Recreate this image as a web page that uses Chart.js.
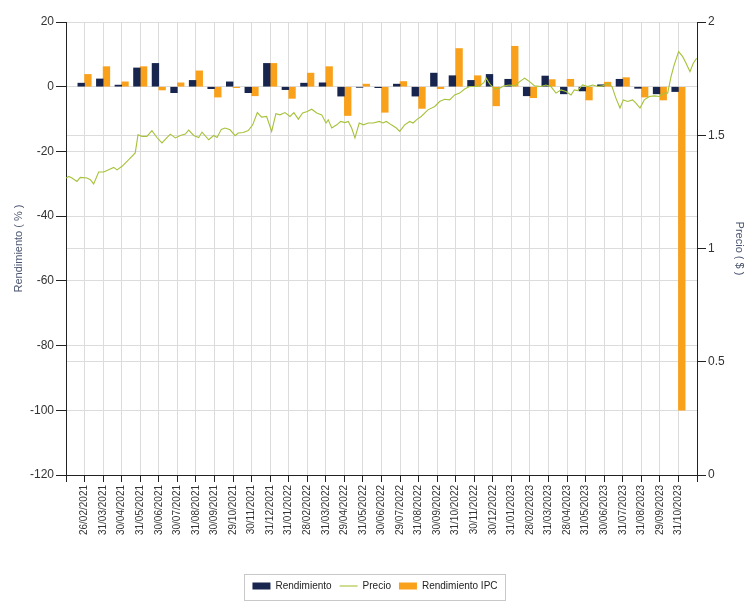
<!DOCTYPE html>
<html>
<head>
<meta charset="utf-8">
<script src="https://cdn.jsdelivr.net/npm/chart.js@4"></script>
<style>
html, body { margin: 0; padding: 0; background: #fff; }
</style>
</head>
<body>
<canvas id="chart" width="746" height="601"></canvas>
<script>
// fechas de cierre mensual
var fechas = ["26/02/2021", "31/03/2021", "30/04/2021", "31/05/2021", "30/06/2021", "30/07/2021",
    "31/08/2021", "30/09/2021", "29/10/2021", "30/11/2021", "31/12/2021", "31/01/2022",
    "28/02/2022", "31/03/2022", "29/04/2022", "31/05/2022", "30/06/2022", "29/07/2022",
    "31/08/2022", "30/09/2022", "31/10/2022", "30/11/2022", "30/12/2022", "31/01/2023",
    "28/02/2023", "31/03/2023", "28/04/2023", "31/05/2023", "30/06/2023", "31/07/2023",
    "31/08/2023", "29/09/2023", "31/10/2023"];

// rendimiento mensual (%)
var rendimiento = [1.1, 2.4, 0.5, 5.8, 7.2, -1.85, 1.95, -0.6, 1.5, -1.85, 7.2, -0.9,
    1.1, 1.2, -2.9, -0.2, -0.3, 0.8, -2.9, 4.2, 3.4, 1.95, 3.8, 2.3,
    -2.8, 3.3, -2.2, -1.3, 0.6, 2.3, -0.5, -2.2, -1.5];

var rendimientoIPC = [3.8, 6.2, 1.5, 6.2, -1.0, 1.2, 4.9, -3.2, -0.3, -2.8, 7.2, -3.6,
    4.2, 6.2, -8.9, 0.8, -7.9, 1.6, -6.7, -0.6, 11.8, 3.4, -5.9, 12.5,
    -3.4, 2.2, 2.3, -4.1, 1.4, 2.8, -3.2, -4.1, -100];

// precio: posicion en meses (1 = 26/02/2021) y valor en $
var precioPos = [0, 0.15, 0.32, 0.59, 0.77, 1.13, 1.31, 1.49, 1.76, 2.03,
    2.30, 2.57, 2.75, 3.02, 3.38, 3.73, 3.88, 4.09, 4.36, 4.63,
    4.90, 5.17, 5.44, 5.62, 5.89, 6.16, 6.43, 6.61, 6.88, 7.15,
    7.33, 7.69, 7.96, 8.14, 8.37, 8.57, 8.84, 9.11, 9.28, 9.55,
    9.82, 10.06, 10.31, 10.54, 10.81, 11.08, 11.31, 11.53, 11.80, 12.07,
    12.28, 12.52, 12.75, 13.00, 13.24, 13.51, 13.78, 14.01, 14.13, 14.32,
    14.59, 14.80, 15.03, 15.21, 15.39, 15.57, 15.80, 16.02, 16.29, 16.56,
    16.88, 17.08, 17.26, 17.53, 17.80, 17.98, 18.25, 18.52, 18.70, 18.93,
    19.14, 19.50, 19.87, 20.13, 20.40, 20.67, 20.94, 21.21, 21.48, 21.75,
    22.02, 22.29, 22.52, 22.64, 22.83, 23.10, 23.37, 23.60, 23.91, 24.18,
    24.45, 24.71, 24.98, 25.25, 25.59, 25.86, 26.13, 26.40, 26.67, 26.94,
    27.21, 27.39, 27.57, 27.84, 28.11, 28.38, 28.65, 28.92, 29.19, 29.42,
    29.63, 29.85, 30.03, 30.26, 30.53, 30.71, 30.93, 31.16, 31.43, 31.70,
    31.97, 32.24, 32.42, 32.60, 32.77, 33.01, 33.23, 33.41, 33.62, 33.80,
    33.98];
var precio = [1.311, 1.318, 1.311, 1.296, 1.314, 1.311, 1.304, 1.285, 1.338, 1.338,
    1.348, 1.358, 1.347, 1.363, 1.392, 1.422, 1.502, 1.495, 1.495, 1.520,
    1.490, 1.466, 1.490, 1.505, 1.488, 1.499, 1.505, 1.523, 1.499, 1.490,
    1.514, 1.480, 1.499, 1.490, 1.526, 1.532, 1.524, 1.498, 1.510, 1.512,
    1.521, 1.546, 1.600, 1.580, 1.583, 1.517, 1.595, 1.590, 1.600, 1.583,
    1.600, 1.571, 1.598, 1.605, 1.615, 1.598, 1.590, 1.554, 1.568, 1.532,
    1.546, 1.561, 1.556, 1.561, 1.532, 1.488, 1.554, 1.546, 1.554, 1.554,
    1.561, 1.554, 1.561, 1.546, 1.532, 1.517, 1.546, 1.561, 1.554, 1.571,
    1.583, 1.612, 1.627, 1.649, 1.659, 1.656, 1.678, 1.686, 1.704, 1.715,
    1.715, 1.718, 1.733, 1.752, 1.727, 1.704, 1.708, 1.718, 1.722, 1.718,
    1.737, 1.752, 1.737, 1.718, 1.715, 1.722, 1.715, 1.686, 1.700, 1.693,
    1.678, 1.700, 1.697, 1.722, 1.715, 1.722, 1.715, 1.718, 1.730, 1.715,
    1.664, 1.620, 1.656, 1.649, 1.656, 1.642, 1.620, 1.656, 1.671, 1.674,
    1.671, 1.686, 1.686, 1.759, 1.811, 1.869, 1.847, 1.818, 1.781, 1.818,
    1.840];

var NAVY = "#17254f";
var ORANGE = "#f9a11b";
var GREEN = "#a6c23a";
var GRID = "#dcdcdc";

Chart.defaults.font.family = '"Liberation Sans", Arial, sans-serif';
Chart.defaults.color = "#333";

// one x axis in month units: fecha i sits at i + 1, 0 and 34 are the empty ends
var barsR = rendimiento.map(function (v, i) { return { x: i + 1, y: v }; });
var barsIPC = rendimientoIPC.map(function (v, i) { return { x: i + 1, y: v }; });
var linePts = precioPos.map(function (p, i) { return { x: p, y: precio[i] }; });

// box round the legend
var legendBox = {
    id: "legendBox",
    afterDraw: function (chart) {
        var lg = chart.legend;
        if (!lg || !lg.legendHitBoxes.length) return;
        var boxes = lg.legendHitBoxes;
        var x0 = boxes[0].left - 8;
        var last = boxes[boxes.length - 1];
        var x1 = last.left + last.width + 8;
        var ctx = chart.ctx;
        ctx.save();
        ctx.strokeStyle = "#c8c8c8";
        ctx.lineWidth = 1;
        ctx.strokeRect(Math.round(x0) + 0.5, lg.top + 1.5, Math.round(x1 - x0), chart.height - lg.top - 2);
        ctx.restore();
    }
};

var ctx = document.getElementById("chart").getContext("2d");
var chart = new Chart(ctx, {
    type: "bar",
    data: {
        datasets: [{
            label: "Rendimiento",
            data: barsR,
            backgroundColor: NAVY,
            order: 1,
            barThickness: 6.7,
            pointStyle: "rect"
        }, {
            type: "line",
            label: "Precio",
            data: linePts,
            yAxisID: "y2",
            borderColor: GREEN,
            backgroundColor: GREEN,
            borderWidth: 1.1,
            pointRadius: 0,
            tension: 0,
            order: 0,
            pointStyle: "line"
        }, {
            label: "Rendimiento IPC",
            data: barsIPC,
            backgroundColor: ORANGE,
            order: 1,
            barThickness: 6.7,
            pointStyle: "rect"
        }]
    },
    options: {
        responsive: false,
        animation: false,
        devicePixelRatio: 1,
        layout: { padding: { left: 4, right: 0, top: 22, bottom: 0 } },
        plugins: {
            tooltip: { enabled: false },
            legend: {
                position: "bottom",
                labels: {
                    usePointStyle: true,
                    pointStyleWidth: 18,
                    boxHeight: 7,
                    padding: 8,
                    color: "#222",
                    font: { size: 10 },
                    sort: function (a, b) { return a.datasetIndex - b.datasetIndex; }
                }
            }
        },
        scales: {
            x: {
                type: "linear",
                min: 0,
                max: 34,
                offset: false,
                grid: { offset: false, color: GRID, tickColor: "#222", tickLength: 7 },
                border: { color: "#222" },
                ticks: {
                    stepSize: 1, autoSkip: false, maxRotation: 90, minRotation: 90,
                    font: { size: 10 }, color: "#333", padding: 3,
                    callback: function (v) { return fechas[v - 1] || ""; }
                },
                afterFit: function (s) { s.height = 98; }
            },
            y: {
                position: "left",
                min: -120,
                max: 20,
                ticks: { stepSize: 20, font: { size: 12 }, color: "#333", padding: 2 },
                grid: { color: GRID, tickColor: "#222", tickLength: 10 },
                border: { color: "#222" },
                title: { display: true, text: "Rendimiento ( % )", color: "#4a5570", font: { size: 11 }, padding: { top: 8, bottom: 0 } },
                afterFit: function (s) { s.width = 62; }
            },
            y2: {
                position: "right",
                min: 0,
                max: 2,
                ticks: {
                    stepSize: 0.5, font: { size: 12 }, color: "#333", padding: 2,
                    callback: function (v) { return String(v); }
                },
                grid: { color: GRID, tickColor: "#222", tickLength: 9 },
                border: { color: "#222" },
                title: { display: true, text: "Precio ( $ )", color: "#4a5570", font: { size: 11 }, padding: { top: 0, bottom: 0 } },
                afterFit: function (s) { s.width = 49; }
            }
        }
    },
    plugins: [legendBox]
});
</script>
</body>
</html>
